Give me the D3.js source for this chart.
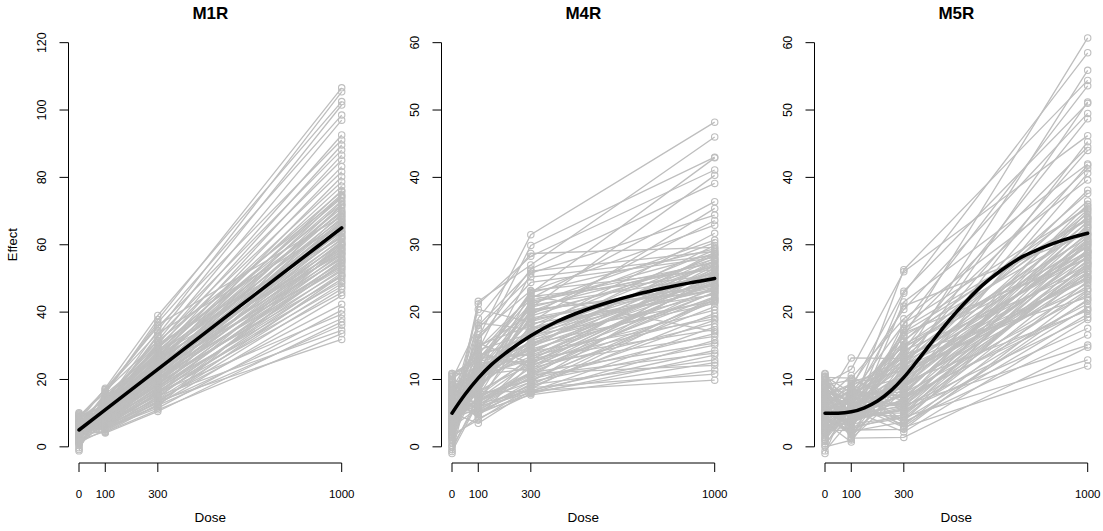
<!DOCTYPE html>
<html>
<head>
<meta charset="utf-8">
<script src="https://cdn.jsdelivr.net/npm/d3@7"></script>
<style>
  body { margin: 0; background: #fff; }
  svg text { font-family: "Liberation Sans", Arial, Helvetica, sans-serif; fill: #000; }
</style>
</head>
<body>
<svg id="chart" width="1103" height="531"></svg>
<script>
// ─── Data ───────────────────────────────────────────────────────────────────
const doses = [0, 100, 300, 1000];
const doseTicks = [0, 100, 300, 1000];
const panelTitles = ["M1R", "M4R", "M5R"];
const yMaxes = [120, 60, 60];
const yTicks = [[0, 20, 40, 60, 80, 100, 120], [0, 10, 20, 30, 40, 50, 60], [0, 10, 20, 30, 40, 50, 60]];

// M1R, one value per subject at each dose
const m1r_d0 = [6.2, 3.8, 7.5, 4.9, 9.1, 2.6, 5.7, 8.3, 4.1, 6.8, 3.3, 5.2, 7.9, 1.9, 6.0, 4.5,
  5.5, 2.9, 7.1, 4.3, 8.8, 3.6, 6.5, 1.4, 5.9, 7.7, 4.7, 9.6, 3.1, 6.3, 0.8, 5.1, 8.1, 2.3, 6.9, 4.0,
  7.3, 3.5, 5.8, 10.1, 2.1, 6.1, 4.4, 8.5, 1.1, 5.4, 6.7, 3.9, 7.0, 2.7, 5.0, 9.3, 4.6, -0.3, 6.4, 3.2,
  8.0, 5.3, 1.7, 6.6, 4.2, 7.6, 2.5, 5.6, 9.8, 3.7, 6.0, 0.4, 4.8, 7.4, 3.0, 5.7, 8.6, 2.0, 6.2, 4.1,
  -1.2, 5.2, 7.8, 3.4, 6.8, 1.6, 4.9, 8.3, 2.8, 5.5, 9.0, 3.6, 6.3, -0.8, 4.5,
  5.0, 2.4, 7.2, 3.8, 6.1, 1.3, 4.7, 8.9, 3.1];
const m1r_d100 = [15.8, 13.2, 17.4, 12.6, 16.1, 14.0, 11.8, 17.1, 13.5, 12.1, 15.0, 10.9, 14.4, 12.9, 11.3, 13.7,
  12.3, 10.6, 14.9, 11.9, 9.8, 13.3, 12.0, 9.1, 15.6, 11.2, 12.8, 10.2, 13.8, 8.7, 11.6, 10.0, 14.2, 9.4, 11.0, 12.5,
  8.3, 10.8, 13.1, 9.6, 11.4, 7.9, 10.4, 12.7, 8.8, 11.7, 7.4, 9.9, 12.2, 8.1, 10.3, 6.9, 9.3, 11.5, 7.6, 10.1,
  6.5, 8.6, 11.1, 7.2, 9.7, 6.1, 8.4, 10.7, 5.8, 9.0, 5.5, 7.8, 9.5, 6.3, 8.2, 5.1, 7.0, 4.6, 6.7, 4.3,
  16.6, 8.0, 14.6, 7.5, 13.6, 6.6, 12.4, 5.9, 11.8, 5.3, 17.0, 14.7, 6.0, 13.0, 16.2,
  7.3, 5.6, 8.9, 6.4, 4.1, 5.0, 7.7, 4.4, 6.2];
const m1r_d300 = [37.8, 34.5, 39.0, 33.2, 36.9, 31.5, 30.4, 35.6, 29.1, 32.8, 27.5, 30.9, 26.4, 29.8, 24.9, 28.3,
  27.1, 24.8, 29.3, 26.0, 22.7, 27.8, 25.4, 21.9, 28.6, 24.1, 25.8, 23.0, 27.2, 20.8, 24.6, 22.2, 26.4, 21.5, 23.8, 25.1,
  20.3, 23.4, 26.9, 21.0, 24.2, 19.6, 22.5, 25.6, 20.1, 23.1, 18.9, 21.7, 24.5, 19.4, 22.0, 17.8, 20.6, 23.6, 18.4, 21.2,
  16.9, 19.9, 22.8, 17.5, 20.4, 15.8, 18.7, 21.4, 16.3, 19.0, 14.9, 17.2, 20.0, 15.4, 18.1, 14.2, 16.6, 13.5, 15.9, 12.6,
  31.4, 18.6, 29.7, 17.3, 28.1, 16.0, 26.3, 14.6, 24.0, 13.1, 33.8, 30.6, 12.0, 27.5, 36.2,
  14.0, 11.5, 16.2, 13.0, 10.5, 12.3, 15.1, 11.0, 13.6];
const m1r_d1000 = [106.6, 105.4, 102.5, 101.5, 98.5, 97.0, 92.6, 91.1, 89.6, 88.1, 86.6, 85.1, 83.2, 81.7, 80.2, 78.7,
  77.4, 76.1, 75.8, 75.0, 74.6, 73.9, 73.1, 72.8, 72.0, 71.5, 70.9, 70.2, 69.8, 69.1, 68.7, 68.0, 67.6, 67.3, 66.5, 66.0,
  65.7, 65.2, 64.8, 64.1, 63.9, 63.3, 62.7, 62.4, 61.8, 61.5, 61.0, 60.6, 60.1, 59.7, 59.2, 58.9, 58.3, 57.9, 57.5, 57.0,
  56.6, 56.1, 55.8, 55.2, 54.7, 54.4, 53.8, 53.1, 52.7, 52.2, 51.6, 51.0, 50.5, 49.8, 49.1, 48.5, 47.6, 46.9, 45.8, 44.9,
  74.2, 71.9, 69.4, 66.9, 63.6, 60.4, 58.6, 55.5, 53.5, 50.9, 65.9, 62.1, 59.9, 57.3, 68.4,
  42.3, 40.6, 39.4, 38.1, 37.1, 36.1, 34.6, 33.6, 31.9];

// M4R
const m4r_d0 = [7.1, 3.4, 9.8, 5.0, 2.2, 8.3, 4.6, 10.9, 6.0, 1.5, 7.7, 3.9, 5.6, 9.2,
  4.1, 6.6, 2.8, 8.7, 5.3, 0.6, 7.3, 3.6, 10.4, 5.8, 1.9, 6.9, 4.4, 9.5, 3.0, 7.9, 5.1, -0.4, 6.3, 8.1,
  2.4, 4.8, 10.7, 3.3, 6.0, 1.2, 7.5, 5.5, 9.0, 2.6, 4.0, 8.5, 3.7, 6.4, 0.2, 5.9, 7.0, 2.0, 4.6, 10.0,
  6.8, 3.1, 5.4, -1.0, 8.9, 4.3, 7.2, 1.7, 5.7, 9.7, 3.5, 6.2, 2.3, 8.0, 4.9, 10.9, 0.9, 6.5, 3.8, 7.6, 5.2,
  4.5, 8.4, 2.1, 6.1, 9.3, 3.2, 5.6, 0.0, 7.4, 4.2, 10.2, 1.4, 6.7, 3.9, 8.6, 5.0, -0.7, 7.8, 2.9, 6.3,
  4.7, 9.1, 1.8, 5.3, 10.5];
const m4r_d100 = [16.2, 21.6, 14.3, 12.8, 21.2, 11.5, 15.9, 13.0, 20.4, 10.9, 14.8, 12.1, 18.4, 9.8,
  11.2, 13.6, 8.9, 15.1, 10.3, 12.4, 9.5, 17.6, 11.8, 8.4, 13.1, 7.9, 14.4, 10.6, 9.0, 12.0, 16.6, 7.5, 11.0, 13.9,
  8.7, 10.1, 12.7, 7.2, 15.4, 9.3, 11.5, 6.8, 10.8, 13.3, 8.1, 12.2, 9.7, 6.5, 14.0, 10.4, 7.7, 11.3, 6.2, 18.0,
  9.1, 12.9, 5.9, 14.6, 8.0, 10.0, 5.6, 16.0, 11.7, 7.4, 13.5, 6.9, 9.9, 12.5, 8.6, 10.7, 19.1, 5.3, 11.9, 8.3, 9.6,
  8.8, 6.3, 10.2, 5.1, 7.1, 9.4, 4.8, 6.7, 8.2, 5.7, 7.6, 4.5, 6.0, 7.3, 5.4, 3.5, 6.6, 4.2, 5.8, 4.9,
  7.0, 5.2, 4.0, 6.4, 13.7];
const m4r_d300 = [31.5, 27.0, 29.9, 22.8, 28.3, 20.6, 26.4, 22.0, 18.5, 25.8, 19.6, 23.1, 17.4, 21.2,
  20.1, 16.4, 22.9, 18.0, 14.7, 21.3, 17.2, 25.2, 15.6, 19.4, 13.8, 21.8, 16.8, 12.9, 19.9, 15.2, 23.2, 13.3, 18.6, 11.9,
  17.0, 21.0, 14.2, 16.1, 12.4, 19.1, 14.9, 10.8, 17.7, 13.6, 20.4, 11.3, 15.8, 18.3, 12.0, 14.5, 9.9, 16.6, 11.1, 26.1,
  15.0, 20.7, 10.4, 22.3, 13.0, 17.5, 9.1, 24.4, 14.0, 20.2, 16.3, 9.6, 18.9, 12.7, 21.6, 11.6, 28.7, 8.6, 15.4, 12.2, 16.9,
  15.3, 10.2, 13.4, 8.9, 12.6, 14.1, 9.4, 11.7, 8.2, 13.1, 10.0, 12.3, 8.0, 11.0, 9.7, 8.4, 10.6, 7.9, 9.2, 8.1,
  10.9, 7.7, 8.8, 8.3, 22.5];
const m4r_d1000 = [48.2, 46.0, 43.0, 42.9, 41.1, 40.3, 39.1, 36.4, 35.4, 34.4, 33.6, 32.9, 31.7, 30.7,
  30.3, 29.9, 29.4, 29.2, 28.9, 28.7, 28.4, 28.4, 28.0, 27.9, 27.7, 27.3, 27.2, 26.9, 26.8, 26.4, 26.3, 26.2, 25.8, 25.7,
  25.4, 25.3, 25.1, 24.7, 24.6, 24.2, 24.1, 23.8, 23.7, 23.4, 23.1, 23.0, 22.7, 22.6, 22.3, 22.0, 21.9, 21.6, 21.5, 29.0,
  28.6, 27.5, 26.6, 25.5, 24.4, 23.3, 22.2, 28.1, 26.0, 24.0, 27.0, 25.6, 23.9, 22.9, 26.7, 24.9, 29.6, 21.8, 25.0, 27.6, 23.5,
  21.3, 20.8, 20.3, 19.8, 19.4, 19.0, 18.8, 18.3, 17.8, 17.4, 16.8, 16.4, 15.8, 15.4, 15.1, 14.3, 13.9, 13.6, 12.9, 12.5,
  12.1, 11.4, 10.8, 9.9, 17.1];

// M5R
const m5r_d0 = [8.1, 3.5, 6.7, 10.8, 1.9, 5.4, 7.6, 2.8, 9.4, 4.3, 0.5, 6.2, 8.8, 3.0, 5.9, 10.3, 2.2, 7.1, 4.7, 9.0,
  5.1, 3.7, 7.9, 1.4, 6.3, 9.7, 4.0, 2.5, 8.4, 5.6, -0.6, 7.2, 3.3, 6.0, 10.5, 4.6, 1.1, 8.0, 5.3, 2.9,
  6.8, 9.2, 3.9, 0.2, 7.4, 4.9, 10.9, 2.0, 6.5, 5.0, 8.7, 3.1, 1.6, 7.0, 4.4, 9.9, 5.8, 2.6, 6.1, -1.0,
  8.2, 3.6, 5.5, 10.1, 1.0, 7.7, 4.2, 6.6, 2.3, 9.5, 5.2, 3.4, 8.5, 0.8, 6.9, 4.8, 7.3, 2.1, 10.4, 5.7,
  3.8, 6.4, 1.3, 8.9, 4.5, 7.5, 2.7, 9.1, 5.9, 0.0, 6.2, 3.0, 7.8, 4.1,
  5.0, 8.6, 2.4, 6.7, 3.6, 9.3];
const m5r_d100 = [6.8, 4.2, 13.2, 5.5, 7.9, 3.6, 9.1, 5.0, 11.5, 6.1, 4.7, 8.3, 2.9, 7.2, 5.8, 10.2, 3.9, 6.5, 8.8, 4.9,
  5.3, 7.6, 3.1, 6.0, 8.5, 4.5, 5.9, 2.4, 7.0, 9.6, 4.1, 6.3, 3.4, 5.6, 8.0, 1.8, 6.7, 4.8, 7.4, 2.7,
  5.2, 9.9, 3.8, 6.2, 4.4, 7.8, 1.2, 5.7, 8.9, 3.3, 6.6, 4.0, 5.4, 10.6, 2.1, 7.1, 4.6, 6.4, 3.0, 8.2,
  5.1, 0.7, 6.9, 3.7, 5.8, 9.3, 2.5, 4.3, 7.3, 5.0, 3.5, 6.1, 1.5, 8.7, 4.9, 5.5, 2.8, 7.7, 4.2, 6.8,
  3.2, 5.3, 9.0, 4.7, 2.0, 6.5, 3.9, 7.5, 5.6, 1.0, 4.4, 8.4, 6.0, 3.6,
  4.1, 2.3, 5.9, 1.3, 3.4, 6.3];
const m5r_d300 = [16.4, 22.8, 13.1, 26.3, 18.2, 11.6, 20.4, 14.5, 26.0, 9.8, 17.3, 12.7, 21.5, 15.6, 8.9, 19.0, 11.2, 13.9, 23.1, 10.5,
  12.4, 8.6, 15.8, 10.9, 6.9, 14.1, 9.5, 17.6, 7.8, 12.0, 5.9, 13.4, 10.2, 16.5, 8.1, 11.5, 6.4, 14.7, 9.0, 4.8,
  12.8, 7.3, 10.6, 15.2, 5.5, 11.9, 8.4, 13.0, 3.9, 9.8, 16.9, 7.0, 11.1, 5.2, 12.6, 8.9, 6.1, 14.3, 4.3, 10.3,
  7.6, 12.2, 3.2, 9.2, 6.7, 11.4, 2.6, 8.0, 13.7, 5.0, 7.2, 4.0, 9.6, 3.5, 6.0, 2.2, 18.4, 15.0, 7.9, 20.9,
  10.0, 6.6, 13.2, 4.6, 8.8, 11.7, 5.7, 3.0, 7.5, 17.0, 9.3, 14.9, 6.3, 10.8,
  5.4, 3.7, 6.2, 1.4, 4.4, 2.9];
const m5r_d1000 = [60.7, 58.5, 55.9, 54.4, 53.6, 51.2, 49.5, 48.7, 46.2, 45.3, 44.5, 44.0, 42.0, 41.3, 40.6, 39.6, 38.1, 37.6, 51.0, 41.8,
  36.5, 36.0, 35.7, 35.2, 34.9, 34.6, 34.2, 33.9, 33.5, 33.3, 33.0, 32.6, 32.4, 32.1, 31.8, 31.5, 31.3, 31.0, 30.8, 30.5,
  30.3, 30.0, 29.8, 29.6, 29.3, 29.1, 28.8, 28.6, 28.4, 28.1, 27.9, 27.7, 27.4, 27.2, 27.0, 26.7, 26.5, 26.2, 25.9, 25.6,
  25.3, 25.0, 24.6, 24.3, 23.9, 23.5, 23.1, 22.6, 22.2, 21.7, 21.2, 20.7, 20.2, 19.7, 19.2, 18.9, 35.4, 34.0, 32.8, 31.6,
  30.1, 29.0, 28.2, 27.3, 26.0, 24.8, 23.3, 21.9, 20.4, 33.7, 30.6, 28.9, 26.9, 25.2,
  17.6, 16.6, 15.1, 14.8, 12.9, 12.0];

// fitted mean curves
const m1r_curveDose = [0, 250, 500, 750, 1000];
const m1r_curveEffect = [5, 20, 35, 50, 65];
const m4r_curveDose = [0, 50, 100, 150, 200, 300, 400, 500, 600, 700, 800, 900, 1000];
const m4r_curveEffect = [5, 7.8, 10.2, 12.2, 13.8, 16.5, 18.6, 20.2, 21.5, 22.6, 23.5, 24.3, 25.0];
const m5r_curveDose = [0, 50, 100, 150, 200, 250, 300, 350, 400, 450, 500, 550, 600, 650, 700, 750, 800, 850, 900, 950, 1000];
const m5r_curveEffect = [5.0, 5.0, 5.2, 5.8, 6.8, 8.3, 10.3, 12.7, 15.2, 17.7, 20.0, 22.1, 24.0, 25.6, 27.0, 28.2, 29.1, 29.9, 30.6, 31.2, 31.7];

const panelSeries = [
  [m1r_d0, m1r_d100, m1r_d300, m1r_d1000],
  [m4r_d0, m4r_d100, m4r_d300, m4r_d1000],
  [m5r_d0, m5r_d100, m5r_d300, m5r_d1000]
];
const panelCurves = [
  [m1r_curveDose, m1r_curveEffect],
  [m4r_curveDose, m4r_curveEffect],
  [m5r_curveDose, m5r_curveEffect]
];

// ─── Layout ─────────────────────────────────────────────────────────────────
const PANEL_LEFT = 68.5, PANEL_STEP = 373, PANEL_W = 283.7;
const PLOT_TOP = 26.5, PLOT_BOTTOM = 463;
const GREY = "#bebebe";
const TICK = 9;

const svg = d3.select("#chart");

panelTitles.forEach((title, p) => {
  const left = PANEL_LEFT + p * PANEL_STEP;
  const yMax = yMaxes[p];

  // R style axes: 4% padding either side of the range
  const x = d3.scaleLinear().domain([-40, 1040]).range([left, left + PANEL_W]);
  const y = d3.scaleLinear().domain([-0.04 * yMax, 1.04 * yMax]).range([PLOT_BOTTOM, PLOT_TOP]);

  const g = svg.append("g").attr("class", "panel");
  const series = panelSeries[p];
  const n = d3.min(series, s => s.length);
  const subjects = d3.range(n).map(i => doses.map((d, j) => [d, series[j][i]]));

  const line = d3.line().x(d => x(d[0])).y(d => y(d[1]));

  // subject profiles
  g.append("g").selectAll("path")
    .data(subjects)
    .join("path")
    .attr("d", line)
    .attr("fill", "none")
    .attr("stroke", GREY)
    .attr("stroke-width", 1.3);

  g.append("g").selectAll("circle")
    .data(subjects.flat())
    .join("circle")
    .attr("cx", d => x(d[0]))
    .attr("cy", d => y(d[1]))
    .attr("r", 3.2)
    .attr("fill", "none")
    .attr("stroke", GREY)
    .attr("stroke-width", 1.1);

  // mean curve
  const [cd, ce] = panelCurves[p];
  g.append("path")
    .datum(cd.map((d, i) => [d, ce[i]]))
    .attr("d", line.curve(d3.curveMonotoneX))
    .attr("fill", "none")
    .attr("stroke", "#000")
    .attr("stroke-width", 3.5)
    .attr("stroke-linecap", "round");

  // x axis
  const xa = g.append("g").attr("transform", `translate(0,${PLOT_BOTTOM})`);
  xa.append("line")
    .attr("x1", x(0)).attr("x2", x(1000))
    .attr("stroke", "#000").attr("stroke-width", 1);
  xa.selectAll("line.tick")
    .data(doseTicks)
    .join("line")
    .attr("class", "tick")
    .attr("x1", d => x(d)).attr("x2", d => x(d))
    .attr("y1", 0).attr("y2", TICK)
    .attr("stroke", "#000");
  xa.selectAll("text")
    .data(doseTicks)
    .join("text")
    .attr("x", d => x(d))
    .attr("y", 35)
    .attr("text-anchor", "middle")
    .style("font-size", "11.5px")
    .text(d => d);

  // y axis
  const ya = g.append("g").attr("transform", `translate(${left},0)`);
  ya.append("line")
    .attr("y1", y(0)).attr("y2", y(yMax))
    .attr("stroke", "#000");
  ya.selectAll("line.tick")
    .data(yTicks[p])
    .join("line")
    .attr("class", "tick")
    .attr("x1", 0).attr("x2", -TICK)
    .attr("y1", d => y(d)).attr("y2", d => y(d))
    .attr("stroke", "#000");
  ya.selectAll("text")
    .data(yTicks[p])
    .join("text")
    .attr("transform", d => `translate(-27,${y(d)}) rotate(-90)`)
    .attr("dy", "0.35em")
    .attr("text-anchor", "middle")
    .style("font-size", "12.5px")
    .text(d => d);

  // labels
  const cx = left + PANEL_W / 2;
  g.append("text")
    .attr("x", cx).attr("y", 18.5)
    .attr("text-anchor", "middle")
    .style("font-size", "17px").style("font-weight", "bold")
    .text(title);
  g.append("text")
    .attr("x", cx).attr("y", 521.5)
    .attr("text-anchor", "middle")
    .style("font-size", "13.5px")
    .text("Dose");
  if (p === 0) {
    g.append("text")
      .attr("transform", `translate(12,${(PLOT_TOP + PLOT_BOTTOM) / 2}) rotate(-90)`)
      .attr("dy", "0.35em")
      .attr("text-anchor", "middle")
      .style("font-size", "13px")
      .text("Effect");
  }
});
</script>
</body>
</html>
